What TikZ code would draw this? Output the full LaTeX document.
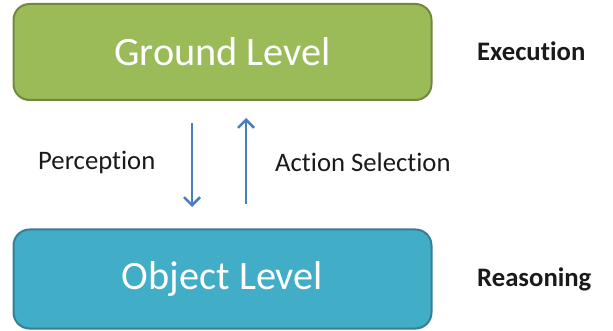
\documentclass[tikz,border=0pt]{standalone}
\usepackage{fontspec}
\setmainfont{Carlito}[Ligatures={NoCommon}]
\usetikzlibrary{arrows.meta}
\definecolor{gfill}{HTML}{9BBB59}
\definecolor{gdraw}{HTML}{71893F}
\definecolor{bfill}{HTML}{41ADC6}
\definecolor{bdraw}{HTML}{357F96}
\definecolor{arr}{HTML}{4A7EBF}
\definecolor{txt}{HTML}{1A1A1A}
\tikzset{
  level/.style={rounded corners=16pt, line width=2pt, minimum width=418pt, minimum height=96pt, text=white, font=\fontsize{40.3}{42}\selectfont},
  lbl/.style={text=txt, font=\fontsize{26.7}{28}\selectfont, inner sep=0pt},
  side/.style={text=txt, font=\bfseries\fontsize{26.7}{28}\selectfont, inner sep=0pt},
  flow/.style={arr, line width=2.5pt, -{Straight Barb[length=8pt,width=16pt,line width=2.5pt]}}
}
\begin{document}
\begin{tikzpicture}[x=1pt,y=-1pt]
\useasboundingbox (0,0) rectangle (613,331);
\node[level, fill=gfill, draw=gdraw] (ground) at (222.5,52) {Ground Level};
\node[level, fill=bfill, draw=bdraw, minimum height=99pt] (object) at (222.5,279) {Object Level};
\coordinate (d1) at (192,123);
\coordinate (d2) at (192,207);
\coordinate (u1) at (246,204);
\coordinate (u2) at (246,118);
\draw[flow] (d1) -- (d2);
\draw[flow] (u1) -- (u2);
\node[lbl, anchor=west] (perc) at (38,162) {Perception};
\node[lbl, anchor=west] (act) at (275,162) {Action Selection};
\node[side, anchor=west] (exec) at (477,51) {Execution};
\node[side, anchor=west] (reas) at (477,279) {Reasoning};
\end{tikzpicture}
\end{document}
